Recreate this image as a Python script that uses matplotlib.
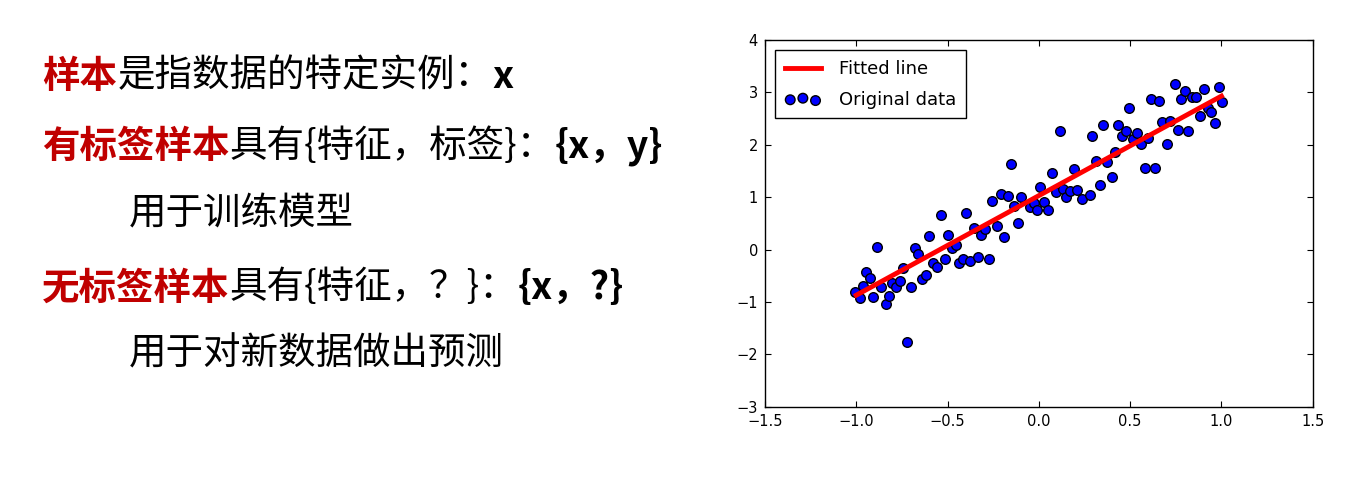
import numpy as np
import matplotlib
matplotlib.use('Agg')
import matplotlib.pyplot as plt

# scatter data
x_data = [-1.005, -0.978, -0.962, -0.945, -0.923, -0.907, -0.885, -0.863, -0.836, -0.819,
          -0.803, -0.781, -0.759, -0.742, -0.721, -0.699, -0.677, -0.660, -0.638, -0.616,
          -0.600, -0.578, -0.556, -0.534, -0.512, -0.496, -0.474, -0.452, -0.436, -0.414,
          -0.397, -0.375, -0.353, -0.332, -0.315, -0.293, -0.271, -0.255, -0.227, -0.205,
          -0.189, -0.167, -0.151, -0.134, -0.112, -0.096, -0.047, -0.025, -0.008, 0.008,
          0.030, 0.052, 0.074, 0.096, 0.118, 0.134, 0.151, 0.173, 0.195, 0.211,
          0.238, 0.282, 0.293, 0.315, 0.337, 0.353, 0.375, 0.403, 0.419, 0.436,
          0.458, 0.479, 0.496, 0.518, 0.540, 0.562, 0.584, 0.600, 0.616, 0.638,
          0.660, 0.677, 0.704, 0.721, 0.748, 0.764, 0.781, 0.803, 0.819, 0.841,
          0.863, 0.885, 0.907, 0.929, 0.945, 0.967, 0.984, 1.005]
y_data = [-0.811, -0.926, -0.697, -0.429, -0.544, -0.906, 0.048, -0.716, -1.040, -0.887,
          -0.639, -0.716, -0.601, -0.353, -1.765, -0.716, 0.029, -0.086, -0.563, -0.487,
          0.258, -0.258, -0.334, 0.658, -0.181, 0.277, 0.029, 0.086, -0.258, -0.181,
          0.697, -0.219, 0.410, -0.143, 0.277, 0.391, -0.181, 0.926, 0.448, 1.059,
          0.239, 1.021, 1.632, 0.830, 0.506, 1.002, 0.811, 0.887, 0.754, 1.193,
          0.906, 0.754, 1.460, 1.097, 2.261, 1.155, 1.002, 1.116, 1.536, 1.135,
          0.964, 1.040, 2.166, 1.689, 1.231, 2.376, 1.670, 1.384, 1.861, 2.376,
          2.166, 2.261, 2.700, 2.109, 2.223, 2.013, 1.555, 2.128, 2.872, 1.555,
          2.834, 2.433, 2.013, 2.452, 3.158, 2.281, 2.872, 3.025, 2.261, 2.910,
          2.910, 2.548, 3.063, 2.700, 2.624, 2.414, 3.101, 2.815]

fit_x = [-1.0, 1.0]
fit_y = [-0.87, 2.93]

x_ticks = [-1.5, -1.0, -0.5, 0.0, 0.5, 1.0, 1.5]
y_ticks = [-3, -2, -1, 0, 1, 2, 3, 4]

# left side text lines: list of (text, colour, bold) segments
text_lines = [
    [('样本', '#c00000', True), ('是指数据的特定实例：', 'black', False), ('x', 'black', True)],
    [('有标签样本', '#c00000', True), ('具有{特征，标签}：', 'black', False), ('{x，y}', 'black', True)],
    [('用于训练模型', 'black', False)],
    [('无标签样本', '#c00000', True), ('具有{特征，？}：', 'black', False), ('{x，?}', 'black', True)],
    [('用于对新数据做出预测', 'black', False)],
]
line_x = [0.031, 0.031, 0.094, 0.031, 0.094]
line_y = [0.842, 0.697, 0.556, 0.403, 0.266]

fig = plt.figure(figsize=(13.66, 4.82), dpi=100)
cjk = ['Noto Sans CJK SC', 'DejaVu Sans']

for segs, lx, ly in zip(text_lines, line_x, line_y):
    prev = None
    for txt, col, bold in segs:
        w = 'bold' if bold else 'normal'
        if prev is None:
            prev = fig.text(lx, ly, txt, color=col, fontsize=27, fontweight=w,
                            family=cjk, ha='left', va='center')
        else:
            prev = fig.add_artist(matplotlib.text.Annotation(
                txt, xy=(1, 0.5), xycoords=prev, color=col, fontsize=27,
                fontweight=w, family=cjk, ha='left', va='center'))

ax = fig.add_axes([0.560, 0.156, 0.401, 0.761])
line, = ax.plot(fit_x, fit_y, color='red', linewidth=3.5, zorder=3)
pts = ax.scatter(x_data, y_data, s=48, c='blue', edgecolors='black',
                 linewidths=1, zorder=2)

ax.set_xlim(-1.5, 1.5)
ax.set_ylim(-3, 4)
ax.set_xticks(x_ticks)
ax.set_yticks(y_ticks)
ax.tick_params(direction='in', top=True, right=True, length=4, labelsize=10.5,
               pad=5)
for sp in ax.spines.values():
    sp.set_linewidth(1.0)

leg = ax.legend([line, pts], ['Fitted line', 'Original data'], loc='upper left',
                scatterpoints=3, scatteryoffsets=[0.375, 0.5, 0.3125],
                fontsize=13, fancybox=False, edgecolor='black', framealpha=1,
                borderaxespad=0.55, handlelength=2.0, handletextpad=1.0,
                labelspacing=0.7, borderpad=0.55)
leg.get_frame().set_linewidth(1.0)

fig.savefig('out.png', dpi=100)
plt.close()
